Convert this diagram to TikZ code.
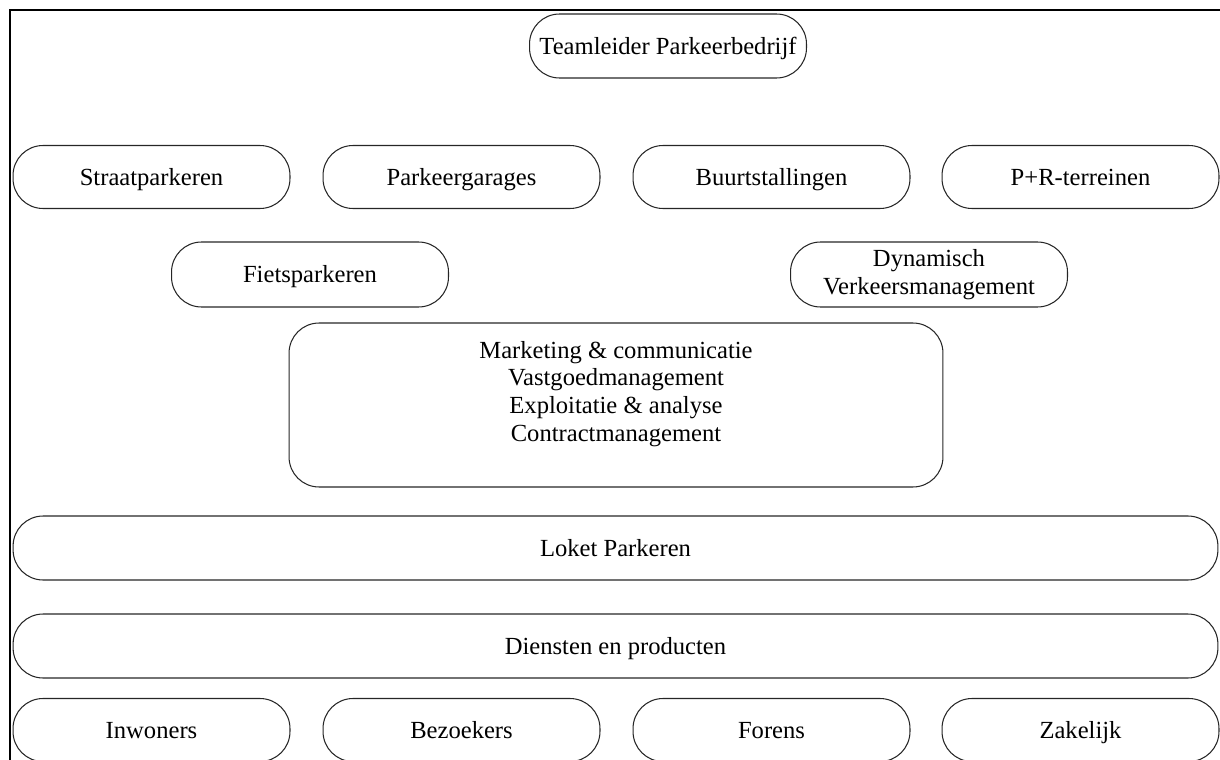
\documentclass[tikz,border=0pt]{standalone}
\usepackage{fontspec}
\setmainfont{Liberation Serif}
\usepackage{tikz}

\begin{document}
\begin{tikzpicture}[x=0.02cm,y=-0.02cm,
    block/.style={draw=black!85,line width=0.6pt,rounded corners=0.6cm,
      align=center,inner sep=0pt,minimum width=5.54cm,minimum height=1.26cm,
      font=\fontsize{14}{15.7}\selectfont},
    unit/.style={block,text height=13.9pt,text depth=4.7pt},
    wide/.style={unit,minimum width=24.1cm,minimum height=1.28cm}]
       \useasboundingbox (0,0) rectangle (1220,760);
       \draw[line width=1.7pt] (1220,10) -- (10,10) -- (10,760);
       \node[unit,minimum height=1.28cm] (lead) at (668,46) {Teamleider Parkeerbedrijf};
       \node[unit] (straat)  at ( 151.5,177) {Straatparkeren};
       \node[unit] (garages) at ( 461.5,177) {Parkeergarages};
       \node[unit] (buurt)   at ( 771.5,177) {Buurtstallingen};
       \node[unit] (pr)      at (1080.5,177) {P+R-terreinen};
       \node[unit,minimum height=1.3cm] (fiets) at (310,274.5) {Fietsparkeren};
       \node[block,minimum height=1.3cm] (dvm)  at (929,274.5) {Dynamisch\\Verkeersmanagement};
       \node[block,minimum width=13.08cm,minimum height=3.28cm] (taken) at (616,405)
         {Marketing \& communicatie\\Vastgoedmanagement\\Exploitatie \& analyse\\Contractmanagement\\\mbox{}};
       \node[wide] (loket)    at (615.5,548) {Loket Parkeren};
       \node[wide] (diensten) at (615.5,646) {Diensten en producten};
       \node[unit] (inwoners)  at ( 151.5,730) {Inwoners};
       \node[unit] (bezoekers) at ( 461.5,730) {Bezoekers};
       \node[unit] (forens)    at ( 771.5,730) {Forens};
       \node[unit] (zakelijk)  at (1080.5,730) {Zakelijk};
      \end{tikzpicture}
\end{document}
